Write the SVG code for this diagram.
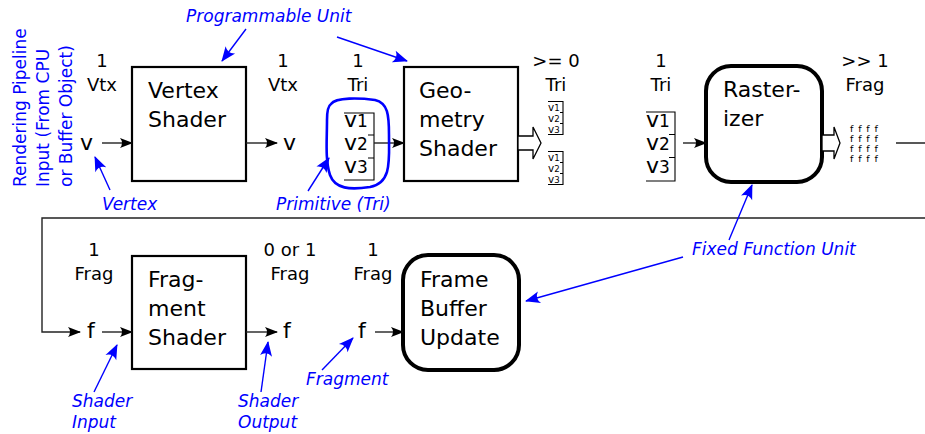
<svg xmlns="http://www.w3.org/2000/svg" width="925" height="434" viewBox="0 0 925 434">
  <style>
    text { font-family: "DejaVu Sans", "Liberation Sans", sans-serif; fill: #000; }
    .box { fill: #fff; stroke: #000; stroke-width: 2.2; }
    .fixed { fill: #fff; stroke: #000; stroke-width: 4; }
    .name { font-size: 22px; }
    .count { font-size: 18px; text-anchor: middle; }
    .sym { font-size: 22px; }
    .vv { font-size: 22px; }
    .vv tspan { font-size: 17px; }
    .vs { font-size: 10.4px; }
    .vs .dg { font-size: 8.6px; }
    .ff { font-size: 9.5px; letter-spacing: 0.9px; }
    .bracket { fill: none; stroke: #000; stroke-width: 1.1; }
    .flow { fill: none; stroke: #222; stroke-width: 1.4; }
    .flow-arrow { fill: none; stroke: #222; stroke-width: 1.4; marker-end: url(#blackHead); }
    .hollow { fill: #fff; stroke: #000; stroke-width: 1.3; stroke-linejoin: miter; }
    .note { font-size: 17px; font-style: italic; fill: #0000ff; }
    .caption { font-size: 17px; fill: #0000ff; }
    .pointer { fill: none; stroke: #0000ff; stroke-width: 1.4; marker-end: url(#blueHead); }
    .loop { fill: none; stroke: #0000ff; stroke-width: 2.6; }
  </style>
  <defs>
    <marker id="blackHead" markerUnits="userSpaceOnUse" viewBox="-14 -7 16 14" markerWidth="16" markerHeight="14" refX="0" refY="0" orient="auto">
      <path d="M1,0 L-12,-5 Q-8,0 -12,5 Z" fill="#000"/>
    </marker>
    <marker id="blueHead" markerUnits="userSpaceOnUse" viewBox="-16 -8 18 16" markerWidth="18" markerHeight="16" refX="0" refY="0" orient="auto">
      <path d="M1,0 L-14,-6 Q-9,0 -14,6 Z" fill="#0000ff"/>
    </marker>
  </defs>

  <!-- pipeline input caption -->
  <g id="pipeline-input">
    <text class="caption" transform="rotate(-90)" x="-187" y="26">Rendering Pipeline</text>
    <text class="caption" transform="rotate(-90)" x="-187" y="49">Input (From CPU</text>
    <text class="caption" transform="rotate(-90)" x="-187" y="72">or Buffer Object)</text>
  </g>

  <!-- stream items and counts -->
  <g id="vertex-in">
    <text class="count" x="102" y="67">1</text>
    <text class="count" x="102" y="91">Vtx</text>
    <text class="sym" x="80" y="150">v</text>
  </g>
  <g id="vertex-out">
    <text class="count" x="283" y="67">1</text>
    <text class="count" x="283" y="91">Vtx</text>
    <text class="sym" x="283" y="150">v</text>
  </g>
  <g id="tri-in">
    <text class="count" x="358" y="67">1</text>
    <text class="count" x="358" y="91">Tri</text>
    <path class="bracket" d="M344,113 H374 V180 H344 M368,135 H374 M368,158 H374"/>
    <text class="vv" x="344" y="127">v<tspan>1</tspan></text>
    <text class="vv" x="344" y="150">v<tspan>2</tspan></text>
    <text class="vv" x="344" y="173">v<tspan>3</tspan></text>
  </g>
  <g id="tri-out">
    <text class="count" x="556" y="67">&gt;= 0</text>
    <text class="count" x="556" y="91">Tri</text>
    <path class="bracket" d="M548,101.5 H563 V134.5 H548 M560,112.5 H563 M560,123.5 H563"/>
    <text class="vs"><tspan x="548" y="110.5">v</tspan><tspan class="dg">1</tspan><tspan x="548" y="121.5">v</tspan><tspan class="dg">2</tspan><tspan x="548" y="132.5">v</tspan><tspan class="dg">3</tspan></text>
    <path class="bracket" d="M548,151.5 H563 V184.5 H548 M560,162.5 H563 M560,173.5 H563"/>
    <text class="vs"><tspan x="548" y="160.5">v</tspan><tspan class="dg">1</tspan><tspan x="548" y="171.5">v</tspan><tspan class="dg">2</tspan><tspan x="548" y="182.5">v</tspan><tspan class="dg">3</tspan></text>
  </g>
  <g id="tri-raster-in">
    <text class="count" x="661" y="67">1</text>
    <text class="count" x="661" y="91">Tri</text>
    <path class="bracket" d="M646,112 H675 V181 H646 M669,134.5 H675 M669,157.5 H675"/>
    <text class="vv" x="646" y="127">v<tspan>1</tspan></text>
    <text class="vv" x="646" y="150">v<tspan>2</tspan></text>
    <text class="vv" x="646" y="173">v<tspan>3</tspan></text>
  </g>
  <g id="frags-out">
    <text class="count" x="865" y="67">&gt;&gt; 1</text>
    <text class="count" x="865" y="91">Frag</text>
    <text class="ff"><tspan x="850" y="132">f f f f</tspan><tspan x="850" y="142">f f f f</tspan><tspan x="850" y="152">f f f f</tspan><tspan x="850" y="162">f f f f</tspan></text>
  </g>
  <g id="frag-in">
    <text class="count" x="94" y="256">1</text>
    <text class="count" x="94" y="280">Frag</text>
    <text class="sym" x="87" y="338">f</text>
  </g>
  <g id="frag-out">
    <text class="count" x="290" y="256">0 or 1</text>
    <text class="count" x="290" y="280">Frag</text>
    <text class="sym" x="283" y="338">f</text>
  </g>
  <g id="frag-fb-in">
    <text class="count" x="373" y="256">1</text>
    <text class="count" x="373" y="280">Frag</text>
    <text class="sym" x="358" y="338">f</text>
  </g>

  <!-- processing stages -->
  <g id="vertex-shader">
    <rect class="box" x="132" y="67" width="114" height="114"/>
    <text class="name" x="148" y="98">Vertex</text>
    <text class="name" x="148" y="127">Shader</text>
  </g>
  <g id="geometry-shader">
    <rect class="box" x="404" y="67" width="114" height="114"/>
    <text class="name" x="419" y="98">Geo-</text>
    <text class="name" x="419" y="127">metry</text>
    <text class="name" x="419" y="156">Shader</text>
  </g>
  <g id="rasterizer">
    <rect class="fixed" x="706" y="66" width="116" height="116" rx="25"/>
    <text class="name" x="723" y="97">Raster-</text>
    <text class="name" x="723" y="126">izer</text>
  </g>
  <g id="fragment-shader">
    <rect class="box" x="132" y="256" width="114" height="113"/>
    <text class="name" x="148" y="287">Frag-</text>
    <text class="name" x="148" y="316">ment</text>
    <text class="name" x="148" y="345">Shader</text>
  </g>
  <g id="frame-buffer-update">
    <rect class="fixed" x="403" y="255" width="116" height="115" rx="25"/>
    <text class="name" x="420" y="287">Frame</text>
    <text class="name" x="420" y="316">Buffer</text>
    <text class="name" x="420" y="345">Update</text>
  </g>

  <!-- data flow -->
  <g id="connectors">
    <line class="flow-arrow" x1="102" y1="143" x2="132" y2="143"/>
    <line class="flow-arrow" x1="246" y1="143" x2="277" y2="143"/>
    <line class="flow-arrow" x1="374" y1="143" x2="404" y2="143"/>
    <polygon class="hollow" points="518,136 533,136 533,127 541,143 533,159 533,150 518,150"/>
    <line class="flow-arrow" x1="683" y1="143" x2="706" y2="143"/>
    <polygon class="hollow" points="822,135 834,135 834,127 840,143 834,159 834,151 822,151"/>
    <path class="flow" d="M896,143 H930 V218"/>
    <path class="flow-arrow" d="M930,218 H42 V332 H80"/>
    <line class="flow-arrow" x1="102" y1="332" x2="132" y2="332"/>
    <line class="flow-arrow" x1="246" y1="332" x2="277" y2="332"/>
    <line class="flow-arrow" x1="375" y1="332" x2="403" y2="332"/>
  </g>

  <!-- annotations -->
  <g id="annotations">
    <text class="note" x="186" y="22">Programmable Unit</text>
    <line class="pointer" x1="246" y1="29" x2="222" y2="61"/>
    <line class="pointer" x1="337" y1="37" x2="407" y2="61"/>
    <text class="note" x="102" y="210">Vertex</text>
    <line class="pointer" x1="110" y1="190" x2="95" y2="157"/>
    <path class="loop" d="M331,104 C336,97 360,98 375,100 C388,103 389,115 389,135 C389,160 392,183 370,187 C350,190 335,189 330,175 C325,160 327,140 327,120 C327,110 328,106 331,104 Z"/>
    <text class="note" x="276" y="210">Primitive (Tri)</text>
    <line class="pointer" x1="308" y1="191" x2="329" y2="158"/>
    <text class="note" x="692" y="255">Fixed Function Unit</text>
    <line class="pointer" x1="729" y1="240" x2="752" y2="185"/>
    <line class="pointer" x1="683" y1="257" x2="526" y2="301"/>
    <text class="note" x="306" y="385">Fragment</text>
    <line class="pointer" x1="322" y1="370" x2="353" y2="338"/>
    <text class="note" x="72" y="407">Shader</text>
    <text class="note" x="72" y="428">Input</text>
    <line class="pointer" x1="94" y1="392" x2="117" y2="345"/>
    <text class="note" x="238" y="407">Shader</text>
    <text class="note" x="238" y="428">Output</text>
    <line class="pointer" x1="261" y1="392" x2="268" y2="342"/>
  </g>
</svg>
